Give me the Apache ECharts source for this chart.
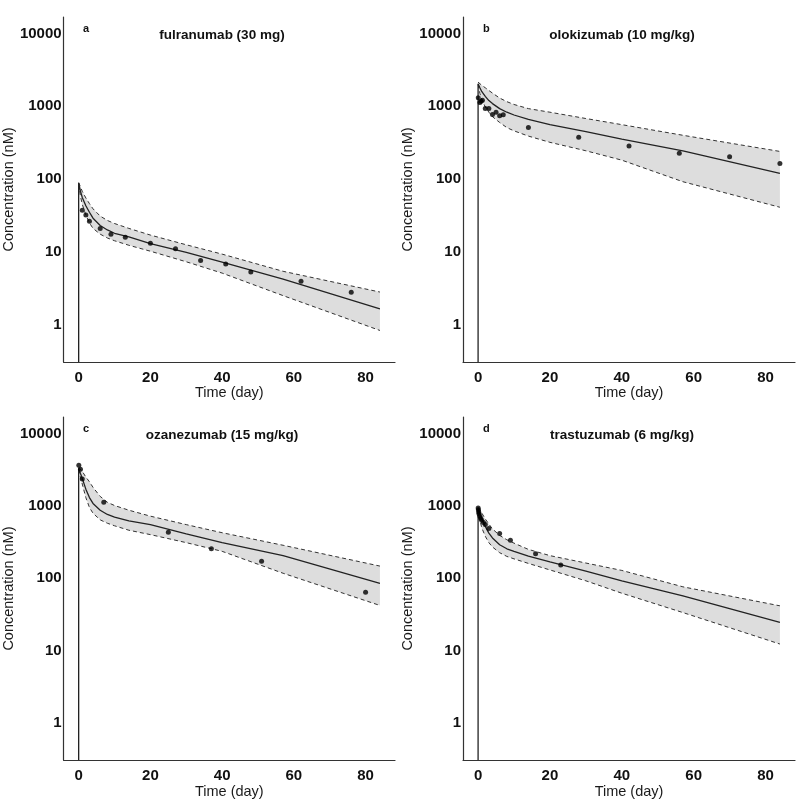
<!DOCTYPE html>
<html>
<head>
<meta charset="utf-8">
<script src="https://cdn.jsdelivr.net/npm/echarts@6/dist/echarts.min.js"></script>
<style>html,body{margin:0;padding:0;background:#fff}#c{width:800px;height:800px}</style>
</head>
<body>
<div id="c"></div>
<script>
// ---------------- data ----------------
const panelLabels = ['a', 'b', 'c', 'd'];
const panelTitles = ['fulranumab (30 mg)', 'olokizumab (10 mg/kg)', 'ozanezumab (15 mg/kg)', 'trastuzumab (6 mg/kg)'];

const xTicks = [0, 20, 40, 60, 80];
const yTicks = [1, 10, 100, 1000, 10000];

// simulated time grid (day)
const modelTime = [0, 0.5, 1, 2, 3, 4, 6, 8, 10, 14, 20, 30, 40, 57, 84];

// fulranumab
const fulMedian = [88, 68, 56, 43, 35, 29, 23, 20, 18, 16, 13, 9.8, 7.2, 4.2, 1.65];
const fulUpper  = [90, 78, 68, 55, 46, 39, 31, 27, 24.5, 21, 17, 12.5, 9.3, 5.4, 2.8];
const fulLower  = [85, 58, 45, 32, 25, 21, 17.5, 15.5, 14.2, 12.3, 10.2, 7.3, 5.1, 2.5, 0.83];
const fulObsTime = [1, 2, 3, 6, 9, 13, 20, 27, 34, 41, 48, 62, 76];
const fulObsConc = [37.3, 32.2, 26.4, 20.9, 17.5, 15.9, 13.1, 11.0, 7.6, 6.8, 5.3, 3.95, 2.78];

// olokizumab
const oloMedian = [2050, 1800, 1600, 1370, 1200, 1090, 930, 830, 760, 660, 560, 450, 355, 245, 120];
const oloUpper  = [2150, 2050, 1950, 1800, 1650, 1520, 1300, 1160, 1060, 930, 830, 680, 560, 400, 240];
const oloLower  = [2000, 1500, 1250, 980, 830, 720, 600, 510, 460, 390, 320, 245, 182, 92, 41];
const oloObsTime = [0.05, 0.5, 0.85, 1.2, 2, 3, 4, 5, 6, 7, 14, 28, 42, 56, 70, 84];
const oloObsConc = [1309, 1131, 1178, 1217, 935, 935, 773, 832, 740, 764, 512, 377, 286, 227, 202, 164];

// ozanezumab
const ozaMedian = [3300, 2800, 2400, 1700, 1300, 1080, 870, 760, 700, 620, 550, 410, 310, 205, 85];
const ozaUpper  = [3400, 3200, 3000, 2500, 2150, 1800, 1350, 1120, 1010, 870, 720, 550, 425, 285, 147];
const ozaLower  = [3200, 2500, 2000, 1300, 950, 790, 640, 575, 530, 460, 400, 310, 235, 117, 42];
const ozaObsTime = [0.04, 0.5, 1, 7, 25, 37, 51, 80];
const ozaObsConc = [3650, 3200, 2350, 1117, 432, 255, 172, 64];

// trastuzumab
const traMedian = [920, 780, 670, 520, 420, 360, 290, 255, 235, 202, 168, 125, 92, 57, 24.5];
const traUpper  = [950, 880, 800, 660, 560, 480, 390, 340, 305, 250, 205, 162, 128, 76, 41.5];
const traLower  = [900, 640, 500, 380, 310, 270, 225, 200, 185, 160, 130, 92, 62, 33.5, 12.3];
const traObsTime = [0.02, 0.08, 0.17, 0.25, 0.5, 0.75, 1, 1.5, 2, 3, 6, 9, 16, 23];
const traObsConc = [935, 880, 820, 780, 720, 670, 630, 590, 550, 485, 415, 334, 218, 152];

// axis ranges
const X_MIN = -4.2, X_MAX = 88.2;
const Y_MIN = 0.306, Y_MAX = 16900;

// ---------------- build ----------------
const panels = [
  {median: fulMedian, upper: fulUpper, lower: fulLower, obsT: fulObsTime, obsC: fulObsConc},
  {median: oloMedian, upper: oloUpper, lower: oloLower, obsT: oloObsTime, obsC: oloObsConc},
  {median: ozaMedian, upper: ozaUpper, lower: ozaLower, obsT: ozaObsTime, obsC: ozaObsConc},
  {median: traMedian, upper: traUpper, lower: traLower, obsT: traObsTime, obsC: traObsConc}
];

const FONT = "'Liberation Sans', Arial, Helvetica, sans-serif";
const gridPos = [
  {left: 63, top: 17}, {left: 463, top: 17},
  {left: 63, top: 417}, {left: 463, top: 417}
];
const GW = 332, GH = 345;

const zip = (a, b) => a.map((v, i) => [v, b[i]]);

const grids = [], xAxes = [], yAxes = [], series = [], graphics = [];

panels.forEach((p, i) => {
  grids.push({left: gridPos[i].left, top: gridPos[i].top, width: GW, height: GH, containLabel: false});
  xAxes.push({
    gridIndex: i, type: 'value', min: X_MIN, max: X_MAX,
    name: 'Time (day)', nameLocation: 'middle', nameGap: 16,
    nameTextStyle: {fontFamily: FONT, fontSize: 14.5, color: '#1a1a1a'},
    axisLine: {show: true, onZero: false, lineStyle: {color: '#333', width: 1.2}},
    axisTick: {show: false},
    splitLine: {show: false},
    axisLabel: {customValues: xTicks, fontFamily: FONT, fontSize: 15, fontWeight: 'bold', color: '#111', margin: 8}
  });
  yAxes.push({
    gridIndex: i, type: 'log', logBase: 10, min: Y_MIN, max: Y_MAX,
    name: 'Concentration (nM)', nameLocation: 'middle', nameGap: 44,
    nameTextStyle: {fontFamily: FONT, fontSize: 14.5, color: '#1a1a1a'},
    axisLine: {show: true, onZero: false, lineStyle: {color: '#333', width: 1.2}},
    axisTick: {show: false},
    splitLine: {show: false},
    axisLabel: {customValues: yTicks, fontFamily: FONT, fontSize: 15, fontWeight: 'bold', color: '#111', margin: 2,
      formatter: v => String(Math.round(v))}
  });

  const upperPts = zip(modelTime, p.upper);
  const lowerPts = zip(modelTime, p.lower);

  series.push({
    type: 'custom', xAxisIndex: i, yAxisIndex: i, silent: true, z: 1,
    data: [[0, 1]],
    renderItem: (params, api) => {
      const pts = upperPts.map(d => api.coord(d)).concat(lowerPts.slice().reverse().map(d => api.coord(d)));
      return {type: 'polygon', shape: {points: pts}, style: {fill: '#dddddd', stroke: null}};
    }
  });
  series.push({
    type: 'line', xAxisIndex: i, yAxisIndex: i, data: upperPts, symbol: 'none', z: 2,
    lineStyle: {color: '#333', width: 1, type: [4, 3]}, silent: true
  });
  series.push({
    type: 'line', xAxisIndex: i, yAxisIndex: i, data: lowerPts, symbol: 'none', z: 2,
    lineStyle: {color: '#333', width: 1, type: [4, 3]}, silent: true
  });
  series.push({
    type: 'line', xAxisIndex: i, yAxisIndex: i,
    data: [[0, Y_MIN]].concat(zip(modelTime, p.median)), symbol: 'none', z: 3,
    lineStyle: {color: '#222', width: 1.3}, silent: true
  });
  series.push({
    type: 'scatter', xAxisIndex: i, yAxisIndex: i, data: zip(p.obsT, p.obsC),
    symbol: 'circle', symbolSize: 5, z: 4, itemStyle: {color: '#000'}, silent: true
  });

  graphics.push({
    type: 'text', left: gridPos[i].left + 20, top: gridPos[i].top + 6,
    style: {text: panelLabels[i], font: "bold 11px " + FONT, fill: '#111'}
  });
  graphics.push({
    type: 'text', x: gridPos[i].left + 159, y: gridPos[i].top + 18,
    style: {text: panelTitles[i], font: "bold 13.5px " + FONT, fill: '#111', textAlign: 'center', textVerticalAlign: 'middle'}
  });
});

const chart = echarts.init(document.getElementById('c'), null, {renderer: 'canvas'});
chart.setOption({
  animation: false,
  backgroundColor: '#fff',
  grid: grids, xAxis: xAxes, yAxis: yAxes, series: series, graphic: graphics
});
</script>
</body>
</html>
